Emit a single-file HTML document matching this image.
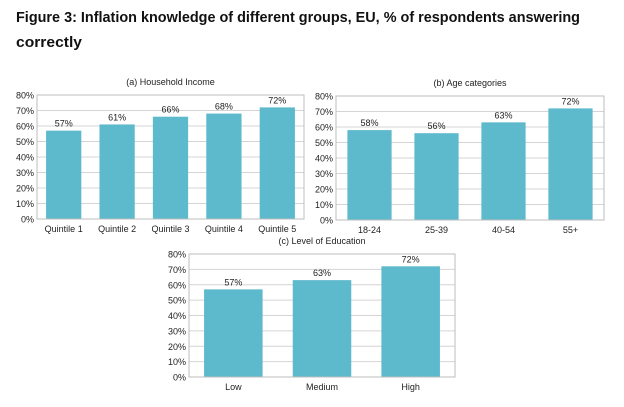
<!DOCTYPE html>
<html><head><meta charset="utf-8"><style>
html,body{margin:0;padding:0;background:#fff;}
svg{display:block;font-family:"Liberation Sans",sans-serif;}
</style></head><body>
<svg id="fig" width="624" height="407" viewBox="0 0 624 407">
<text x="16" y="22" font-size="15" font-weight="bold" fill="#111" textLength="564" lengthAdjust="spacingAndGlyphs">Figure 3: Inflation knowledge of different groups, EU, % of respondents answering</text>
<text x="16" y="47" font-size="15" font-weight="bold" fill="#111" textLength="66" lengthAdjust="spacingAndGlyphs">correctly</text>
</svg>
<script>
const incomeCats=["Quintile 1","Quintile 2","Quintile 3","Quintile 4","Quintile 5"];
const incomeVals=[57,61,66,68,72];
const ageCats=["18-24","25-39","40-54","55+"];
const ageVals=[58,56,63,72];
const eduCats=["Low","Medium","High"];
const eduVals=[57,63,72];
const yTicks=[0,10,20,30,40,50,60,70,80];

const NS="http://www.w3.org/2000/svg";
const svg=document.getElementById('fig');
function mk(tag,attrs,parent){const e=document.createElementNS(NS,tag);for(const k in attrs)e.setAttribute(k,attrs[k]);(parent||svg).appendChild(e);return e;}

function chart(name,title,cats,vals,L,R,T,B,barFrac){
  const g=mk('g',{});
  
  
  const y=v=>B-(v/80)*(B-T);
  const cw=(R-L)/cats.length;
  const t=mk('text',{x:(L+R)/2,y:T-10,'font-size':9,'text-anchor':'middle',fill:'#222'},g);
  t.textContent=title;
  
  
  yTicks.forEach(v=>{
    const ln=mk('line',{x1:L,x2:R,y1:y(v),y2:y(v),stroke:'#d4d4d4','stroke-width':1},g);
    
    
    const tl=mk('text',{x:L-3,y:y(v)+3.5,'font-size':9,'text-anchor':'end',fill:'#222'},g);
    tl.textContent=v+'%';
    
    
  });
  cats.forEach((c,i)=>{
    const bw=cw*barFrac;
    const x=L+cw*i+(cw-bw)/2;
    const r=mk('rect',{x:x,y:y(vals[i]),width:bw,height:B-y(vals[i]),fill:'#5db9cc'},g);
    
    
    const vl=mk('text',{x:x+bw/2,y:y(vals[i])-4,'font-size':9,'text-anchor':'middle',fill:'#222'},g);
    vl.textContent=vals[i]+'%';
    
    
    const xl=mk('text',{x:x+bw/2,y:B+13,'font-size':9,'text-anchor':'middle',fill:'#222'},g);
    xl.textContent=c;
    
    
  });
  const fr=mk('rect',{x:L,y:T,width:R-L,height:B-T,fill:'none',stroke:'#bdbdbd','stroke-width':1},g);
  
  
}
chart('income-chart','(a) Household Income',incomeCats,incomeVals,37,304,95,219,0.66);
chart('age-chart','(b) Age categories',ageCats,ageVals,336,604,96,220,0.66);
chart('education-chart','(c) Level of Education',eduCats,eduVals,189,455,254,377,0.66);
</script>
</body></html>
